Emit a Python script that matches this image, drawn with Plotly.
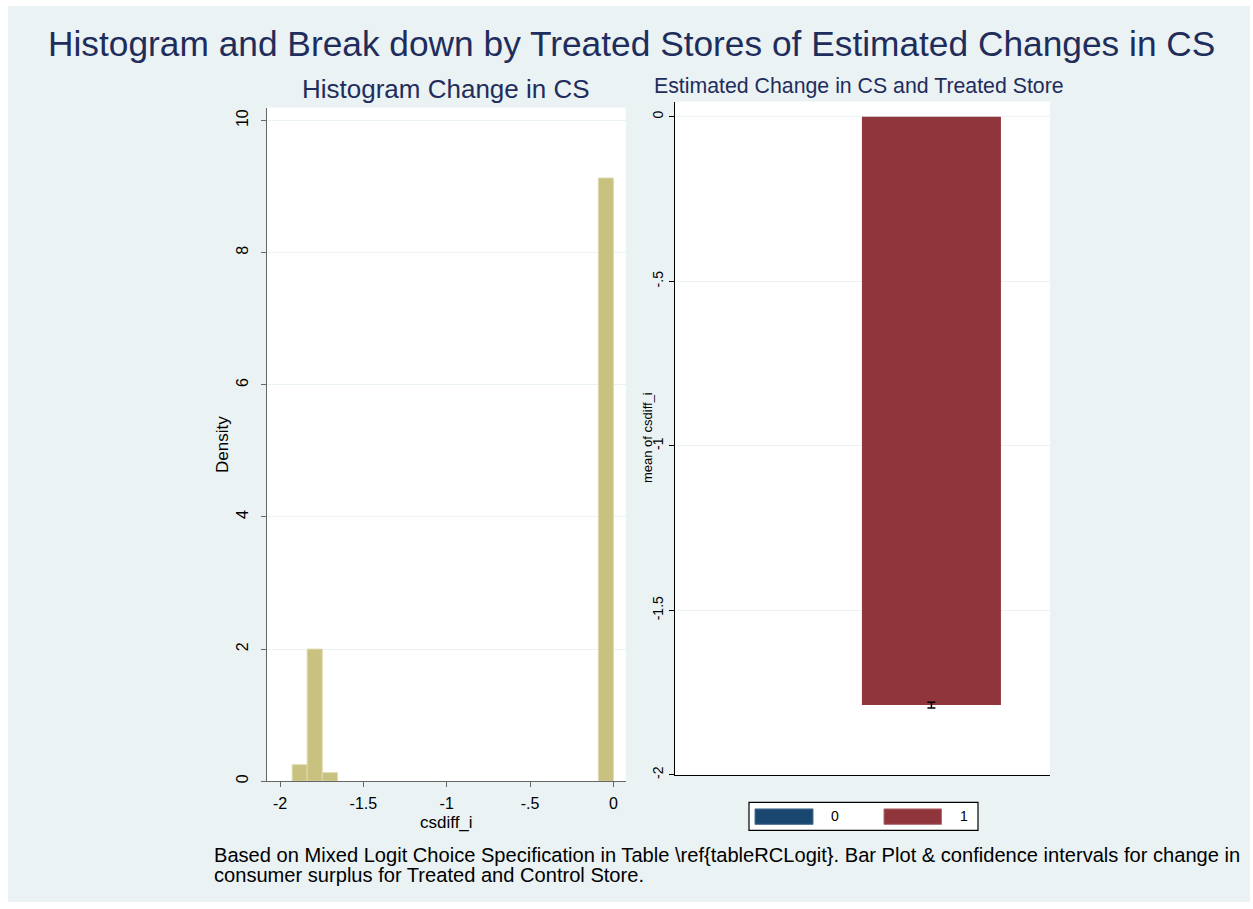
import plotly.graph_objects as go

# ---------------- data ----------------
hist_centers = [-1.882, -1.792, -1.701, -0.045]
hist_density = [0.25, 2.0, 0.13, 9.13]
hist_bin_width = 0.09

treated_groups = [0, 1]
treated_labels = ["0", "1"]
mean_csdiff = [0.0, -1.788]
ci_halfwidth = [0.0, 0.009]

left_yticks = [0, 2, 4, 6, 8, 10]
left_xticks = [-2, -1.5, -1, -0.5, 0]
left_xticklabels = ["-2", "-1.5", "-1", "-.5", "0"]
right_yticks = [0, -0.5, -1, -1.5, -2]
right_yticklabels = ["0", "-.5", "-1", "-1.5", "-2"]

footer_lines = [
    "Based on Mixed Logit Choice Specification in Table \\ref{tableRCLogit}. Bar Plot &amp; confidence intervals for change in",
    "consumer surplus for Treated and Control Store.",
]

# ---------------- layout helpers ----------------
W, H = 1253, 909
def px(x):
    return x / W
def py(y):
    return 1 - y / H

NAVY = "#1A476F"
MAROON = "#90353B"
KHAKI = "#C9C17F"
BG = "#EAF2F3"
TITLE_C = "#1F2D5C"
FONT = "Liberation Sans, Arial, sans-serif"

fig = go.Figure()

fig.add_trace(go.Bar(
    x=hist_centers, y=hist_density, width=hist_bin_width,
    marker=dict(color=KHAKI, line=dict(color="#DDD8AC", width=1)),
    xaxis="x", yaxis="y", showlegend=False,
))

bar_colors = [NAVY, MAROON]
for i, g in enumerate(treated_groups):
    err = None
    if ci_halfwidth[i] > 0:
        err = dict(type="data", array=[ci_halfwidth[i]], visible=True,
                   color="black", thickness=1.5, width=4)
    fig.add_trace(go.Bar(
        x=[g], y=[mean_csdiff[i]], width=1,
        marker=dict(color=bar_colors[i], line=dict(width=0)),
        error_y=err, name=treated_labels[i],
        xaxis="x2", yaxis="y2", showlegend=False,
    ))

fig.update_layout(
    width=W, height=H, autosize=False,
    margin=dict(l=0, r=0, t=0, b=0),
    paper_bgcolor=BG, plot_bgcolor="white",
    barmode="overlay",
    font=dict(family=FONT, color="black"),
    xaxis=dict(domain=[px(266.7), px(625.7)], range=[-2.08, 0.074],
               tickvals=left_xticks, ticktext=left_xticklabels,
               showline=True, zeroline=False, ticks="outside", ticklen=5,
               ticklabelstandoff=3,
               tickfont=dict(family=FONT, size=16, color="black"),
               linecolor="#666666", tickcolor="#666666", showgrid=False,
               anchor="y"),
    yaxis=dict(domain=[py(784.7), py(108)], range=[0, 10.197],
               tickvals=left_yticks, tickangle=-90,
               showline=True, zeroline=False, ticks="outside", ticklen=5,
               ticklabelstandoff=6,
               tickfont=dict(family=FONT, size=16, color="black"),
               linecolor="#666666", tickcolor="#666666",
               showgrid=True, gridcolor=BG, gridwidth=1,
               anchor="x"),
    xaxis2=dict(domain=[px(674.7), px(1050)], range=[-0.847, 1.853],
                showline=True, linecolor="black", showticklabels=False,
                ticks="", showgrid=False, zeroline=False, anchor="y2"),
    yaxis2=dict(domain=[py(778.3), py(102)], range=[-2, 0.0463],
                tickvals=right_yticks, ticktext=right_yticklabels, tickangle=-90,
                showline=True, linecolor="black", tickcolor="black", ticks="outside",
                ticklen=5, zeroline=False,
                tickfont=dict(family=FONT, size=14, color="black"),
                showgrid=True, gridcolor=BG, gridwidth=1, anchor="x2"),
)

def rect(x0, x1, y0, y1, **kw):
    d = dict(type="rect", xref="paper", yref="paper",
             x0=px(x0), x1=px(x1), y0=py(y1), y1=py(y0))
    d.update(kw)
    return d

shapes = [
    # white outer border
    rect(-10, W + 10, -10, 6, fillcolor="white", line=dict(width=0), layer="above"),
    rect(-10, W + 10, 906, H + 20, fillcolor="white", line=dict(width=0), layer="above"),
    rect(-10, 8, -10, H + 20, fillcolor="white", line=dict(width=0), layer="above"),
    rect(1250, W + 10, -10, H + 20, fillcolor="white", line=dict(width=0), layer="above"),
    # legend box
    rect(749, 978, 806, 834, fillcolor="white", line=dict(color="black", width=1.2)),
    rect(755, 813, 812.5, 828, fillcolor=NAVY, line=dict(color="#4A6E90", width=1)),
    rect(884, 941.5, 812.5, 828, fillcolor=MAROON, line=dict(color="#B06A70", width=1)),
]
fig.update_layout(shapes=shapes)

ann = [
    dict(text="Histogram and Break down by Treated Stores of Estimated Changes in CS",
         x=px(631), y=py(44), font=dict(size=35.3, color=TITLE_C)),
    dict(text="Histogram Change in CS", x=px(446), y=py(89), font=dict(size=26, color=TITLE_C)),
    dict(text="Estimated Change in CS and Treated Store", x=px(859), y=py(86),
         font=dict(size=21.3, color=TITLE_C)),
    dict(text="Density", x=px(222), y=py(447), textangle=-90, font=dict(size=17)),
    dict(text="csdiff_i", x=px(446), y=py(826), font=dict(size=17)),
    dict(text="mean of csdiff_i", x=px(647), y=py(440), textangle=-90, font=dict(size=13)),
    dict(text="0", x=px(835), y=py(820), font=dict(size=14)),
    dict(text="1", x=px(964), y=py(820), font=dict(size=14)),
    dict(text=footer_lines[0], x=px(212), y=py(859), xanchor="left", font=dict(size=20.1)),
    dict(text=footer_lines[1], x=px(212), y=py(879), xanchor="left", font=dict(size=20.1)),
]
for a in ann:
    a.setdefault("xanchor", "center")
    a.setdefault("yanchor", "middle")
    a.update(xref="paper", yref="paper", showarrow=False)
    a["font"] = dict(family=FONT, color=a["font"].get("color", "black"), size=a["font"]["size"])
fig.update_layout(annotations=ann)

fig.write_html("out.html")
